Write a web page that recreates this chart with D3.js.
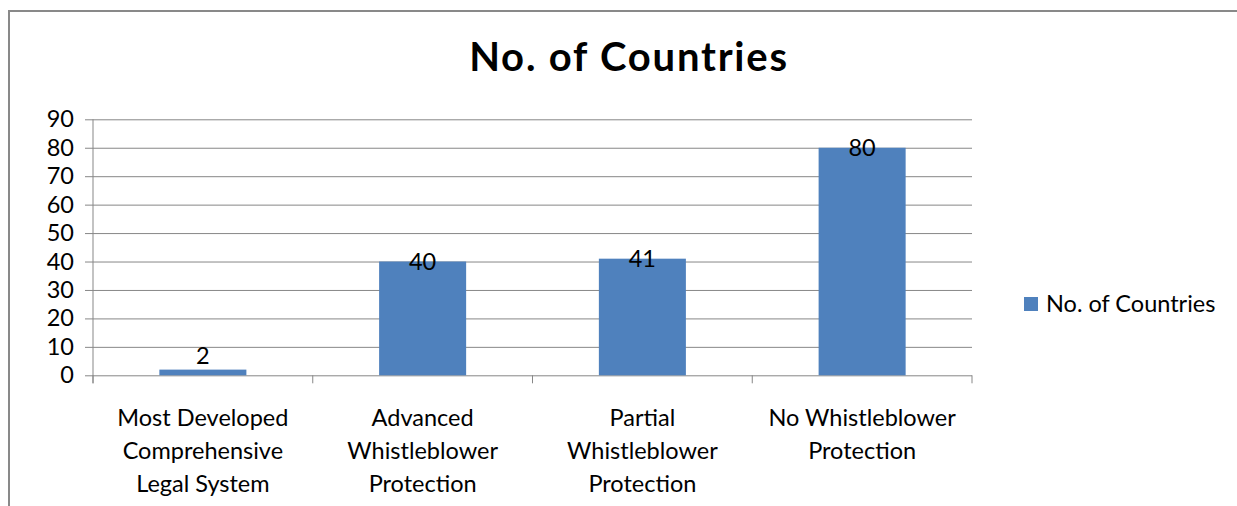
<!DOCTYPE html>
<html>
<head>
<meta charset="utf-8">
<script src="https://cdn.jsdelivr.net/npm/d3@7"></script>
<style>
  body { margin: 0; background: #fff; }
  text { font-family: Lato, "Open Sans", sans-serif; fill: #000; }
</style>
</head>
<body>
<div class="chart"></div>
<script>

const FRAME_WIDTH = 1237;
const FRAME_HEIGHT = 506;
const MARGINS = {left: 93, right: 265, top: 119.3, bottom: 130.7};

// data
const CATEGORIES = [
    ["Most Developed", "Comprehensive", "Legal System"],
    ["Advanced", "Whistleblower", "Protection"],
    ["Partial", "Whistleblower", "Protection"],
    ["No Whistleblower", "Protection"]
];
const VALUES = [2, 40, 41, 80];
const Y_TICKS = [0, 10, 20, 30, 40, 50, 60, 70, 80, 90];
const SERIES_NAME = "No. of Countries";
const TITLE = "No. of Countries";

const BAR_COLOR = "#4F81BD";
const GRID_COLOR = "#878787";
const FONT_SIZE = "23.5px";

const PLOT_WIDTH = FRAME_WIDTH - MARGINS.left - MARGINS.right;
const PLOT_HEIGHT = FRAME_HEIGHT - MARGINS.top - MARGINS.bottom;

const SVG = d3.select(".chart")
    .append("svg")
    .attr("width", FRAME_WIDTH)
    .attr("height", FRAME_HEIGHT);

// chart border (bottom and right are cut off in the picture)
SVG.append("path")
    .attr("d", "M9," + FRAME_HEIGHT + " V11 H" + FRAME_WIDTH)
    .attr("fill", "none")
    .attr("stroke", "#898989")
    .attr("stroke-width", 2);

const X_SCALE = d3.scaleBand()
    .domain(d3.range(CATEGORIES.length))
    .range([0, PLOT_WIDTH]);

const Y_SCALE = d3.scaleLinear()
    .domain([0, 90])
    .range([PLOT_HEIGHT, 0]);

const PLOT = SVG.append("g")
    .attr("transform", "translate(" + MARGINS.left + "," + MARGINS.top + ")");

// gridlines + y axis
const Y_AXIS = PLOT.append("g")
    .call(d3.axisLeft(Y_SCALE).tickValues(Y_TICKS).tickSize(-PLOT_WIDTH).tickSizeOuter(0).tickPadding(19));
Y_AXIS.select(".domain").remove();
Y_AXIS.selectAll("line")
    .attr("x1", -8)
    .attr("stroke", GRID_COLOR);
Y_AXIS.selectAll("text")
    .attr("font-size", FONT_SIZE)
    .attr("font-family", "Lato, sans-serif")
    .attr("fill", "#000");

// vertical axis line
PLOT.append("line")
    .attr("x1", 0).attr("x2", 0)
    .attr("y1", 0).attr("y2", PLOT_HEIGHT + 8)
    .attr("stroke", GRID_COLOR);

// category boundary ticks
PLOT.selectAll(".cat-tick")
    .data(d3.range(CATEGORIES.length + 1))
    .enter()
    .append("line")
    .attr("x1", (d) => { return d * X_SCALE.step(); })
    .attr("x2", (d) => { return d * X_SCALE.step(); })
    .attr("y1", PLOT_HEIGHT)
    .attr("y2", PLOT_HEIGHT + 8)
    .attr("stroke", GRID_COLOR);

// bars
const BAR_W = X_SCALE.bandwidth() * 0.396;
PLOT.selectAll(".bar")
    .data(VALUES)
    .enter()
    .append("rect")
    .attr("class", "bar")
    .attr("x", (d, i) => { return X_SCALE(i) + (X_SCALE.bandwidth() - BAR_W) / 2; })
    .attr("y", (d) => { return Y_SCALE(d); })
    .attr("width", BAR_W)
    .attr("height", (d) => { return PLOT_HEIGHT - Y_SCALE(d); })
    .attr("fill", BAR_COLOR);

// data labels
PLOT.selectAll(".label")
    .data(VALUES)
    .enter()
    .append("text")
    .attr("x", (d, i) => { return X_SCALE(i) + X_SCALE.bandwidth() / 2; })
    .attr("y", (d) => { return Math.min(Y_SCALE(d), PLOT_HEIGHT - 20); })
    .attr("dy", "0.36em")
    .attr("text-anchor", "middle")
    .attr("font-size", FONT_SIZE)
    .text((d) => { return d; });

// category labels
const CAT_G = PLOT.selectAll(".cat")
    .data(CATEGORIES)
    .enter()
    .append("text")
    .attr("text-anchor", "middle")
    .attr("font-size", FONT_SIZE)
    .attr("transform", (d, i) => {
        return "translate(" + (X_SCALE(i) + X_SCALE.bandwidth() / 2) + "," + (PLOT_HEIGHT + 51) + ")";
    });
CAT_G.selectAll("tspan")
    .data((d) => { return d; })
    .enter()
    .append("tspan")
    .attr("x", 0)
    .attr("y", (d, i) => { return i * 33; })
    .text((d) => { return d; });

// title
SVG.append("text")
    .attr("x", 629)
    .attr("y", 71)
    .attr("text-anchor", "middle")
    .attr("font-size", "40px")
    .attr("letter-spacing", "1.8px")
    .attr("font-weight", "bold")
    .text(TITLE);

// legend
const LEGEND = SVG.append("g")
    .attr("transform", "translate(1024,297)");
LEGEND.append("rect")
    .attr("width", 14)
    .attr("height", 14)
    .attr("fill", BAR_COLOR);
LEGEND.append("text")
    .attr("x", 22)
    .attr("y", 14.5)
    .attr("font-size", FONT_SIZE)
    .text(SERIES_NAME);

</script>
</body>
</html>
